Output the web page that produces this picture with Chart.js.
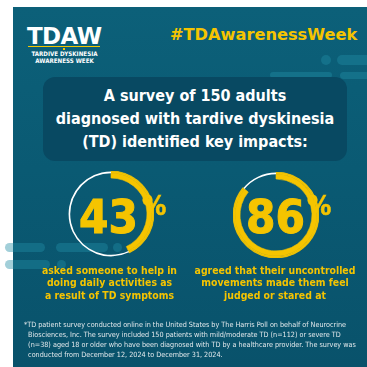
<!DOCTYPE html>
<html lang="en">
<head>
<meta charset="UTF-8" />
<title>TDAW survey</title>
<script src="https://cdn.jsdelivr.net/npm/chart.js"></script>
<style>
    html, body { margin: 0; padding: 0; background: #ffffff; }
    body { width: 367px; height: 367px; position: relative; overflow: hidden; }
    .card {
        position: absolute; left: 13px; top: 7px; width: 354px; height: 360px;
        background: linear-gradient(180deg, #0c6079 0%, #0a5a73 45%, #09526b 100%);
    }
    .abs { position: absolute; white-space: nowrap; line-height: 1; }
    .cond { font-family: "DejaVu Sans Condensed", "DejaVu Sans", sans-serif; }
    .pill { position: absolute; background: rgba(34, 140, 165, 0.42); border-radius: 6px; }
    .panel {
        position: absolute; left: 43px; top: 77px; width: 304px; height: 84px;
        background: #084962; border-radius: 12px;
    }
    #tdaw { left: 27px; top: 22.5px; font: bold 23px "DejaVu Sans", sans-serif; color: #fff; letter-spacing: -0.6px; }
    .rule { position: absolute; left: 28px; top: 45.5px; width: 72px; height: 1.5px; background: #f2c500; }
    .dot { position: absolute; left: 63px; top: 48px; width: 2px; height: 2px; background: #f2c500; }
    .sub { font-weight: bold; font-size: 6.2px; color: #fff; width: 80px; text-align: center; left: 24.5px; }
    #hashtag { left: 170px; top: 25.3px; font: bold 16.2px "DejaVu Sans", sans-serif; color: #f5c400; }
    #title { left: 43px; top: 83.5px; width: 304px; text-align: center; color: #fff;
        font-weight: bold; font-size: 16px; line-height: 23px; }
    .ring { position: absolute; width: 86px; height: 86px; }
    .num { font-weight: bold; font-size: 47px; color: #f5c400; -webkit-text-stroke: 1px #f5c400; }
    .pct { font-weight: bold; font-size: 27px; color: #f5c400; -webkit-text-stroke: 0.5px #f5c400; }
    .cap { color: #f5c400; font-weight: bold; font-size: 10.4px; line-height: 12.5px; text-align: center; width: 170px; }
    #note { left: 24px; top: 319.9px; color: #e3e9ec; font-size: 7.2px; line-height: 10px; }
</style>
</head>
<body>
<div class="card"></div>

<!-- pilulas decorativas -->
<div class="pill" style="left:321px;top:55px;width:10px;height:10px;border-radius:50%"></div>
<div class="pill" style="left:337px;top:55px;width:40px;height:10px"></div>
<div class="pill" style="left:270px;top:72px;width:62px;height:6px"></div>
<div class="pill" style="left:340px;top:72px;width:40px;height:7px"></div>
<div class="pill" style="left:5px;top:243px;width:40px;height:9px"></div>
<div class="pill" style="left:56px;top:243px;width:52px;height:9px"></div>
<div class="pill" style="left:113px;top:243px;width:9px;height:9px;border-radius:50%"></div>
<div class="pill" style="left:5px;top:260px;width:45px;height:9px"></div>
<div class="pill" style="left:57px;top:260px;width:9px;height:9px;border-radius:50%"></div>

<div class="panel"></div>

<div class="abs" id="tdaw">TDAW</div>
<div class="rule"></div>
<div class="dot"></div>
<div class="abs cond sub" style="top:50.8px">TARDIVE DYSKINESIA</div>
<div class="abs cond sub" style="top:57.8px">AWARENESS WEEK</div>
<div class="abs" id="hashtag">#TDAwarenessWeek</div>

<div class="abs cond" id="title"></div>

<canvas id="ring0" class="ring" width="86" height="86" style="left:67.5px;top:171px"></canvas>
<canvas id="ring1" class="ring" width="86" height="86" style="left:233px;top:171.5px"></canvas>

<div id="stats"></div>

<div class="abs cond" id="note"></div>

<script>
    // dados do infografico
    const tituloLinhas = ['A survey of 150 adults', 'diagnosed with tardive dyskinesia', '(TD) identified key impacts:'];
    const percentuais = [43, 86];
    const legendas = [
        ['asked someone to help in', 'doing daily activities as', 'a result of TD symptoms'],
        ['agreed that their uncontrolled', 'movements made them feel', 'judged or stared at']
    ];
    const notaLinhas = [
        '*TD patient survey conducted online in the United States by The Harris Poll on behalf of Neurocrine',
        '  Biosciences, Inc. The survey included 150 patients with mild/moderate TD (n=112) or severe TD',
        '  (n=38) aged 18 or older who have been diagnosed with TD by a healthcare provider. The survey was',
        '  conducted from December 12, 2024 to December 31, 2024.'
    ];

    const AMARELO = '#f5c400';
    const BRANCO = '#ffffff';
    const VAZIO = 'rgba(0,0,0,0)';

    document.getElementById('title').innerHTML = tituloLinhas.join('<br>');
    document.getElementById('note').innerHTML = notaLinhas.map(l => l.replace(/  /g, '&nbsp;&nbsp;')).join('<br>');

    // posicoes dos blocos de numero / legenda
    const numPos = [{ x: 79, pct: 142, cap: 109.5 }, { x: 246, pct: 307, cap: 275 }];
    let html = '';
    for (let i = 0; i < percentuais.length; i++) {
        html += `<div class="abs cond num" style="left:${numPos[i].x}px;top:192.7px">${percentuais[i]}</div>`;
        html += `<div class="abs cond pct" style="left:${numPos[i].pct}px;top:191.8px">%</div>`;
        html += `<div class="abs cond cap" style="left:${numPos[i].cap - 85}px;top:263.8px">${legendas[i].join('<br>')}</div>`;
    }
    document.getElementById('stats').innerHTML = html;

    // aneis: faixa amarela grossa + linha branca fina no restante
    function plotarAnel(idx) {
        const p = percentuais[idx];
        const resto = 100 - p;
        const config = {
            type: 'doughnut',
            data: {
                labels: ['sim', 'nao'],
                datasets: [
                    { data: [p, resto], backgroundColor: [AMARELO, VAZIO], borderColor: [AMARELO, VAZIO], weight: 0.6 },
                    { data: [p, resto], backgroundColor: [AMARELO, BRANCO], borderColor: [AMARELO, VAZIO], weight: 1.6 },
                    { data: [p, resto], backgroundColor: [AMARELO, VAZIO], borderColor: [AMARELO, VAZIO], weight: 4.8 }
                ]
            },
            options: {
                responsive: false,
                animation: false,
                events: [],
                cutout: '83.7%',
                radius: 43,
                layout: { padding: 0 },
                elements: { arc: { borderWidth: 0.6, hoverOffset: 0, offset: 0 } },
                plugins: { legend: { display: false }, tooltip: { enabled: false } }
            }
        };
        new Chart(document.getElementById('ring' + idx), config);
    }
    plotarAnel(0);
    plotarAnel(1);
</script>
</body>
</html>
